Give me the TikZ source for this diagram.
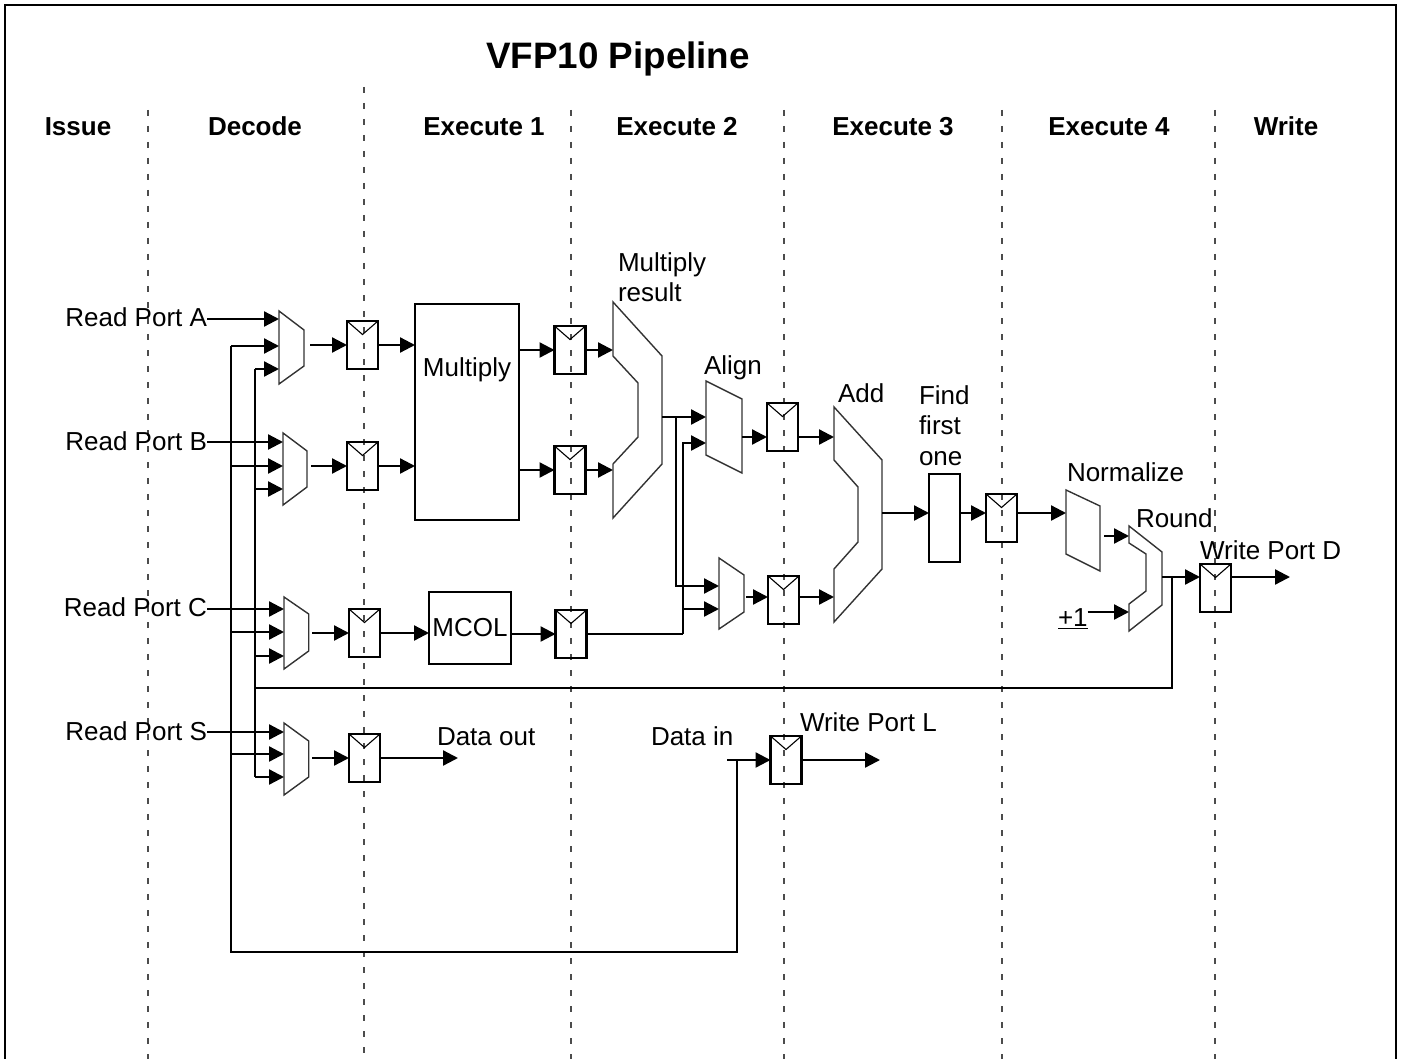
\documentclass[tikz,border=0pt]{standalone}
\usepackage{fontspec}
\setmainfont{Liberation Sans}
\usetikzlibrary{arrows.meta,calc}
\begin{document}
\begin{tikzpicture}[x=0.5pt,y=-0.5pt,
  every node/.style={inner sep=0pt, outer sep=0pt},
  lbl/.style={font=\fontsize{13}{15}\selectfont},
  hdr/.style={font=\fontsize{13}{15}\selectfont\bfseries, anchor=base},
  wire/.style={line width=1.15pt},
  arr/.style={line width=1.15pt, -{Triangle[length=7.5pt,width=7.5pt]}},
  shp/.style={line width=0.7pt, draw=black!80, line join=miter},
  stage/.style={line width=1.1pt, draw=black!70, dash pattern=on 3pt off 5pt},
  box/.style={draw, line width=1.15pt},
  reg/.style={draw, line width=1.15pt, minimum width=15.5pt, minimum height=24pt,
    path picture={\draw[line width=0.55pt] (path picture bounding box.north west) -- ([yshift=-6.75pt]path picture bounding box.north) -- (path picture bounding box.north east);}}
]
\useasboundingbox (0,0) rectangle (1402,1059);
% frame
\draw[line width=1.15pt] (5,1059) -- (5,5) -- (1396,5) -- (1396,1059);
% stage separators
\foreach \sx/\sy in {148/110, 364/87, 571/110, 784/110, 1002/110, 1215/110}
  \draw[stage] (\sx,\sy) -- (\sx,1059);
% title and headers
\node[font=\fontsize{18.4}{22}\selectfont\bfseries, anchor=base] (title) at (618,69) {VFP10 Pipeline};
\node[hdr] (hIssue) at (78,136) {Issue};
\node[hdr] (hDecode) at (255,136) {Decode};
\node[hdr] (hE1) at (484,136) {Execute 1};
\node[hdr] (hE2) at (677,136) {Execute 2};
\node[hdr] (hE3) at (893,136) {Execute 3};
\node[hdr] (hE4) at (1109,136) {Execute 4};
\node[hdr] (hW) at (1286,136) {Write};

% read port labels
\node[lbl, anchor=base east] (rpA) at (207,326) {Read Port A};
\node[lbl, anchor=base east] (rpB) at (207,450) {Read Port B};
\node[lbl, anchor=base east] (rpC) at (207,616) {Read Port C};
\node[lbl, anchor=base east] (rpS) at (207,740) {Read Port S};

% decode muxes
\draw[shp] (279,311) -- (304,330) -- (304,366) -- (279,384) -- cycle;
\coordinate (mA1) at (279,319); \coordinate (mA2) at (279,346); \coordinate (mA3) at (279,369); \coordinate (mAo) at (310,345);
\draw[shp] (283,433) -- (307,451) -- (307,487) -- (283,505) -- cycle;
\coordinate (mB1) at (283,442); \coordinate (mB2) at (283,466); \coordinate (mB3) at (283,489); \coordinate (mBo) at (311,466);
\draw[shp] (284,597) -- (308.7,614) -- (308.7,651) -- (284,669) -- cycle;
\coordinate (mC1) at (284,609); \coordinate (mC2) at (284,632); \coordinate (mC3) at (284,656); \coordinate (mCo) at (312,633);
\draw[shp] (284,723) -- (308.7,741) -- (308.7,777) -- (284,795) -- cycle;
\coordinate (mS1) at (284,732); \coordinate (mS2) at (284,754); \coordinate (mS3) at (284,777); \coordinate (mSo) at (312,758);

% read port arrows
\draw[arr] (rpA.east |- mA1) -- (mA1);
\draw[arr] (rpB.east |- mB1) -- (mB1);
\draw[arr] (rpC.east |- mC1) -- (mC1);
\draw[arr] (rpS.east |- mS1) -- (mS1);

% buses
\coordinate (busL) at (231,0);
\coordinate (busR) at (255,0);
\coordinate (bot) at (0,952);
\coordinate (j4) at (737,760);
\draw[wire] (busL |- mA2) -- (busL |- bot) -- (j4 |- bot) -- (j4);
\draw[wire] (busR |- mA3) -- (busR |- mS3);
\draw[arr] (busL |- mA2) -- (mA2);
\draw[arr] (busL |- mB2) -- (mB2);
\draw[arr] (busL |- mC2) -- (mC2);
\draw[arr] (busL |- mS2) -- (mS2);
\draw[arr] (busR |- mA3) -- (mA3);
\draw[arr] (busR |- mB3) -- (mB3);
\draw[arr] (busR |- mC3) -- (mC3);
\draw[arr] (busR |- mS3) -- (mS3);

% decode registers
\node[reg] (regA) at (362.5,345) {};
\node[reg] (regB) at (362.5,466) {};
\node[reg] (regC) at (364.5,633) {};
\node[reg] (regS) at (364.5,758) {};
\draw[arr] (mAo) -- (regA.west);
\draw[arr] (mBo) -- (regB.west);
\draw[arr] (mCo) -- (regC.west);
\draw[arr] (mSo) -- (regS.west);

% execute 1
\node[box, minimum width=52pt, minimum height=108pt] (mult) at (467,412) {};
\node[lbl, anchor=base] (multlbl) at (467,376) {Multiply};
\draw[arr] (regA.east) -- (regA.east -| mult.west);
\draw[arr] (regB.east) -- (regB.east -| mult.west);
\node[box, lbl, minimum width=41pt, minimum height=36pt] (mcol) at (470,628) {MCOL};
\draw[arr] (regC.east) -- (regC.east -| mcol.west);
\coordinate (dout) at (458,758);
\draw[arr] (regS.east) -- (dout);
\node[lbl, anchor=base west] (doutlbl) at (437,745) {Data out};

% execute 1 registers
\node[reg] (reg1a) at (570,350) {};
\node[reg] (reg1b) at (570,470) {};
\node[reg] (reg1c) at (571,634) {};
\draw[arr] (mult.east |- reg1a.west) -- (reg1a.west);
\draw[arr] (mult.east |- reg1b.west) -- (reg1b.west);
\draw[arr] (mcol.east |- reg1c.west) -- (reg1c.west);

% multiply result
\draw[shp] (613,302) -- (662,356) -- (662,464) -- (613,518) -- (613,464) -- (638,437) -- (638,383) -- (613,356) -- cycle;
\coordinate (mr1) at (613,350); \coordinate (mr2) at (613,470); \coordinate (mro) at (662,417);
\node[lbl, anchor=base west] (mrlbl1) at (618,271) {Multiply};
\node[lbl, anchor=base west] (mrlbl2) at (618,301) {result};
\draw[arr] (reg1a.east) -- (mr1);
\draw[arr] (reg1b.east) -- (mr2);

% align
\draw[shp] (706,381) -- (742,399) -- (742,473) -- (706,455) -- cycle;
\coordinate (al1) at (706,417); \coordinate (al2) at (706,443); \coordinate (alo) at (742,437);
\node[lbl, anchor=base west] (allbl) at (704,374) {Align};
\draw[arr] (mro) -- (al1);

% lower mux (execute 2)
\draw[shp] (719,558) -- (744,575) -- (744,612) -- (719,629) -- cycle;
\coordinate (lm1) at (719,586); \coordinate (lm2) at (719,609); \coordinate (lmo) at (746,597);
\coordinate (j1) at (676,417);
\draw[arr] (j1) -- (j1 |- lm1) -- (lm1);
\coordinate (j2) at (683,634);
\draw[wire] (reg1c.east) -- (j2);
\draw[arr] (j2) -- (j2 |- al2) -- (al2);
\draw[arr] (j2 |- lm2) -- (lm2);

% execute 2 registers
\node[reg] (reg2a) at (782.5,427) {};
\node[reg] (reg2b) at (783.5,600) {};
\draw[arr] (alo) -- (alo -| reg2a.west);
\draw[arr] (lmo) -- (lmo -| reg2b.west);

% add
\draw[shp] (834,407) -- (882,460) -- (882,569) -- (834,622) -- (834,569) -- (858,542) -- (858,487) -- (834,460) -- cycle;
\coordinate (ad1) at (834,437); \coordinate (ad2) at (834,597); \coordinate (ado) at (882,513);
\node[lbl, anchor=base west] (adlbl) at (838,402) {Add};
\draw[arr] (reg2a.east |- ad1) -- (ad1);
\draw[arr] (reg2b.east |- ad2) -- (ad2);

% find first one
\node[box, minimum width=15.5pt, minimum height=44pt] (ffo) at (944.5,518) {};
\node[lbl, anchor=base west] (ffl1) at (919,404) {Find};
\node[lbl, anchor=base west] (ffl2) at (919,434) {first};
\node[lbl, anchor=base west] (ffl3) at (919,465) {one};
\draw[arr] (ado) -- (ado -| ffo.west);

% execute 3 register
\node[reg] (reg3) at (1001.5,518) {};
\draw[arr] (ado -| ffo.east) -- (ado -| reg3.west);

% normalize
\draw[shp] (1066,490) -- (1100,506) -- (1100,571) -- (1066,554) -- cycle;
\coordinate (nm1) at (1066,513); \coordinate (nmo) at (1104,536);
\node[lbl, anchor=base west] (nmlbl) at (1067,481) {Normalize};
\draw[arr] (ado -| reg3.east) -- (nm1);

% round
\draw[shp] (1129,526) -- (1162,552) -- (1162,605) -- (1129,631) -- (1129,604) -- (1146,591) -- (1146,554) -- (1129,543) -- cycle;
\coordinate (rd1) at (1129,536); \coordinate (rd2) at (1129,612); \coordinate (rdo) at (1162,577);
\node[lbl, anchor=base west] (rdlbl) at (1136,527) {Round};
\draw[arr] (nmo) -- (rd1);
\node[lbl, anchor=base west] (plus1) at (1058,626) {\underline{+1}};
\draw[arr] (plus1.east |- rd2) -- (rd2);

% write register
\node[reg] (regW) at (1215.5,588) {};
\draw[arr] (rdo) -- (rdo -| regW.west);
\coordinate (wpD) at (1290,577);
\draw[arr] (regW.east |- wpD) -- (wpD);
\node[lbl, anchor=base west] (wpDlbl) at (1200,559) {Write Port D};
\coordinate (j3) at (1172,577);
\coordinate (fb) at (255,688);
\draw[wire] (j3) -- (j3 |- fb) -- (fb);

% data in / write port L
\node[lbl, anchor=base west] (dinlbl) at (651,745) {Data in};
\coordinate (din) at (727,760);
\node[reg] (regL) at (786,760) {};
\draw[arr] (din) -- (regL.west);
\coordinate (wpL) at (880,760);
\draw[arr] (regL.east) -- (wpL);
\node[lbl, anchor=base west] (wpLlbl) at (800,731) {Write Port L};
\end{tikzpicture}
\end{document}
